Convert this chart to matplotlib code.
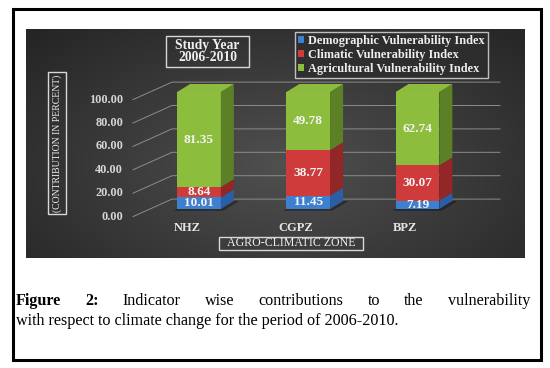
import numpy as np
import matplotlib
matplotlib.use("Agg")
import matplotlib.pyplot as plt
from matplotlib.patches import Polygon, Rectangle, Patch
from matplotlib.colors import LinearSegmentedColormap

# data
zones = ["NHZ", "CGPZ", "BPZ"]
demographic = [10.01, 11.45, 7.19]
climatic = [8.64, 38.77, 30.07]
agricultural = [81.35, 49.78, 62.74]
series_names = ["Demographic Vulnerability Index",
                "Climatic Vulnerability Index",
                "Agricultural Vulnerability Index"]
yticks = [0, 20, 40, 60, 80, 100]

W, H = 550, 368
SERIF = "Liberation Serif"


def fx(px):
    return px / W


def fy(py):
    return 1 - py / H


fig = plt.figure(figsize=(5.5, 3.68), dpi=100)
fig.patch.set_facecolor("white")

# outer black frame
fig.patches.append(Rectangle((fx(13), fy(360)), (541 - 13) / W, (360 - 9) / H,
                             transform=fig.transFigure, fill=False,
                             edgecolor="black", linewidth=2.2))

# dark panel with radial glow
pl, pt, pr, pb = 26, 29, 525, 258
rect = [fx(pl), fy(pb), (pr - pl) / W, (pb - pt) / H]
bg = fig.add_axes(rect)
yy, xx = np.mgrid[0:1:200j, 0:1:400j]
r = np.sqrt(((xx - 0.52) * 1.2) ** 2 + (yy - 0.6) ** 2)
cmap = LinearSegmentedColormap.from_list("glow", ["#505050", "#3a3a3a", "#252525"])
bg.imshow(r, cmap=cmap, aspect="auto", extent=[0, 1, 0, 1], origin="upper",
          vmin=0, vmax=0.85)
bg.axis("off")

# chart axes: category index on x, percent on y
x0, xs = 199, 109.25   # pixel of category 0, pixels per category
y0, ys = 209, 1.17     # pixel of 0 %, pixels per percent
ax = fig.add_axes(rect)
ax.set_facecolor("none")
ax.set_xlim((pl - x0) / xs, (pr - x0) / xs)
ax.set_ylim((y0 - pb) / ys, (y0 - pt) / ys)
ax.axis("off")

w = 0.4
ddx, ddy = 13 / xs, 8 / ys          # bar depth
wdx, wdy = 39 / xs, 17.5 / ys       # back wall offset
lab_x = (123 - x0) / xs
start_x = (133 - x0) / xs
grid_end = (500 - x0) / xs

# 3d style gridlines
for v in yticks:
    ax.plot([start_x, start_x + wdx, grid_end], [v - 6.5, v - 6.5 + wdy, v - 6.5 + wdy],
            color="#8c8c8c", lw=0.7, zorder=1)
    ax.text(lab_x, v - 6.5, f"{v:.2f}", ha="right", va="center", color="#d6d6d6",
            fontsize=8.8, fontweight="bold", family=SERIF)

front = ["#3f7fd0", "#cf3b3b", "#8dbd3d"]
side = ["#2c5ea6", "#932626", "#5c8026"]
top_col = "#8cbb3e"
series = [demographic, climatic, agricultural]

x = np.arange(len(zones))
bottoms = np.zeros(len(zones))
for k, vals in enumerate(series):
    ax.bar(x, vals, width=w, bottom=bottoms, color=front[k], zorder=3)
    for i, v in enumerate(vals):
        b = bottoms[i]
        xr = x[i] + w / 2
        ax.add_patch(Polygon([(xr, b), (xr + ddx, b + ddy), (xr + ddx, b + v + ddy), (xr, b + v)],
                             closed=True, facecolor=side[k], edgecolor="none", zorder=3))
        ax.text(x[i], b + v / 2, f"{v:.2f}", ha="center", va="center", color="#f4f4f4",
                fontsize=9.5, fontweight="bold", family=SERIF, zorder=4)
    bottoms = bottoms + np.array(vals)

# top faces and floor shadows
for i in x:
    t = bottoms[i]
    xl, xr = i - w / 2, i + w / 2
    ax.add_patch(Polygon([(xl, t), (xl + ddx, t + ddy), (xr + ddx, t + ddy), (xr, t)],
                         closed=True, facecolor=top_col, edgecolor="none", zorder=3))
    ax.add_patch(Polygon([(xl - 0.03, -1.5), (xr + 0.02, -1.5), (xr + ddx + 0.05, ddy),
                          (xl + ddx, ddy)], closed=True, facecolor="black", alpha=0.35,
                         edgecolor="none", zorder=2))

# category labels
for i, z in enumerate(zones):
    ax.text(i - 0.11, (y0 - 228) / ys, z, ha="center", va="center", color="#e6e6e6",
            fontsize=9, fontweight="bold", family=SERIF)

# boxed titles
def boxed(cx, cy, bw, bh, txt, **kw):
    fig.patches.append(Rectangle((fx(cx - bw / 2), fy(cy + bh / 2)), bw / W, bh / H,
                                 transform=fig.transFigure, fill=False,
                                 edgecolor="#d8d8d8", linewidth=1.0))
    fig.text(fx(cx), fy(cy), txt, ha="center", va="center", color="#eeeeee",
             family=SERIF, **kw)


boxed(291, 243, 144, 13, "AGRO-CLIMATIC ZONE", fontsize=8.6)
fig.patches.append(Rectangle((fx(48), fy(214)), 18 / W, 142 / H, transform=fig.transFigure,
                             fill=False, edgecolor="#d8d8d8", linewidth=1.0))
fig.text(fx(57.5), fy(143), "(CONTRIBUTION IN PERCENT)", rotation=90, ha="center",
         va="center", color="#eeeeee", family=SERIF, fontsize=7.0)
boxed(207.5, 51.5, 83, 30, "Study Year\n2006-2010", fontsize=9.8, fontweight="bold",
      linespacing=0.95)

# legend
handles = [Patch(facecolor=c) for c in front]
leg = fig.legend(handles, series_names, loc="upper left", bbox_to_anchor=(fx(295), fy(32)),
                 frameon=True, fancybox=False, borderpad=0.25, labelspacing=0.15,
                 handlelength=0.5, handleheight=0.5, handletextpad=0.35,
                 borderaxespad=0, prop={"family": SERIF, "weight": "bold", "size": 8.8},
                 labelcolor="#eeeeee")
leg.get_frame().set_facecolor("#2d2d2d")
leg.get_frame().set_edgecolor("#e4e4e4")
leg.get_frame().set_linewidth(1.0)

# caption, first line justified
renderer = fig.canvas.get_renderer()
words = [("Figure", "bold"), ("2:", "bold"), ("Indicator", "normal"), ("wise", "normal"),
         ("contributions", "normal"), ("to", "normal"), ("the", "normal"),
         ("vulnerability", "normal")]
objs = [fig.text(0, fy(301), wd, fontsize=11.6, fontweight=wt, family=SERIF,
                 ha="left", va="center") for wd, wt in words]
widths = [o.get_window_extent(renderer).width for o in objs]
left, right = 16, 530
gap = (right - left - sum(widths)) / (len(words) - 1)
pos = left
for o, wd in zip(objs, widths):
    o.set_x(fx(pos))
    pos += wd + gap
fig.text(fx(16), fy(321), "with respect to climate change for the period of 2006-2010.",
         fontsize=11.6, family=SERIF, ha="left", va="center")

fig.savefig("out.png", dpi=100)
